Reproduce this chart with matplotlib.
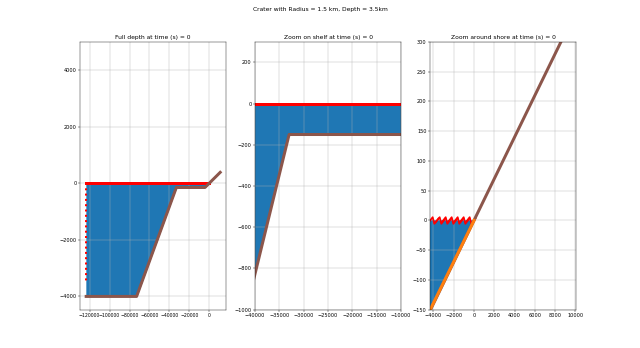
import numpy as np
from matplotlib import pyplot as plt
from matplotlib.path import Path

# Bathymetry profile (x in m, depth in m)
bathy_x = [-123500, -72900, -33000, -4290, 11000]
bathy_z = [-4000, -4000, -150, -150, 385]

# Wet part of the seabed and the free surface at t = 0
wet_x = [-123500, -72900, -33000, -4290, 0]
wet_z = [-4000, -4000, -150, -150, 0]
eta_x = [-123500, -300]
eta_z = [0, 0]

# Left boundary cells and shore cells near the surface
wall_x = [-123800, -123800]
wall_z = [0, -3500]
shore_cells_x = [-4000, -3400, -2800, -2200, -1600, -1000, -400]
shore_cells_z = [0, 0, 0, 0, 0, 0, 0]

# Shore bottom seen in the close-up
shore_x = [-4330, 0]
shore_z = [-150, 0]

time_s = 0
titles = ["Full depth at time (s) = %d" % time_s,
          "Zoom on shelf at time (s) = %d" % time_s,
          "Zoom around shore at time (s) = %d" % time_s]
xlims = [(-129700, 16700), (-40000, -10000), (-4330, 10050)]
ylims = [(-4470, 5000), (-1000, 300), (-150, 300)]

zig = Path([(-1, -0.5), (-0.15, 0.6), (0.15, -0.6), (1, 0.5)],
           [Path.MOVETO, Path.LINETO, Path.LINETO, Path.LINETO])

fig, axes = plt.subplots(1, 3, figsize=(640 / 36, 348 / 36), dpi=36)
fig.suptitle("Crater with Radius = 1.5 km, Depth = 3.5km")

for i, ax in enumerate(axes):
    ax.fill_between(wet_x, wet_z, 0, color="C0")
    if i == 2:
        ax.plot(shore_cells_x, shore_cells_z, ls="none", marker=zig,
                ms=22, mec="r", mfc="none", mew=3.5)
    else:
        ax.plot(eta_x, eta_z, color="r", lw=6)
        ax.plot(wall_x, wall_z, color="r", lw=4, ls=":")
    ax.plot(bathy_x, bathy_z, color="C5", lw=6)
    if i == 2:
        ax.plot(shore_x, shore_z, color="C1", lw=6)
    ax.set_xlim(xlims[i])
    ax.set_ylim(ylims[i])
    ax.set_title(titles[i])
    ax.grid(True)

# long labels on the full-depth axis sit close together
axes[0].tick_params(axis="x", labelsize=9.2)

plt.savefig("out.png", dpi=36)
